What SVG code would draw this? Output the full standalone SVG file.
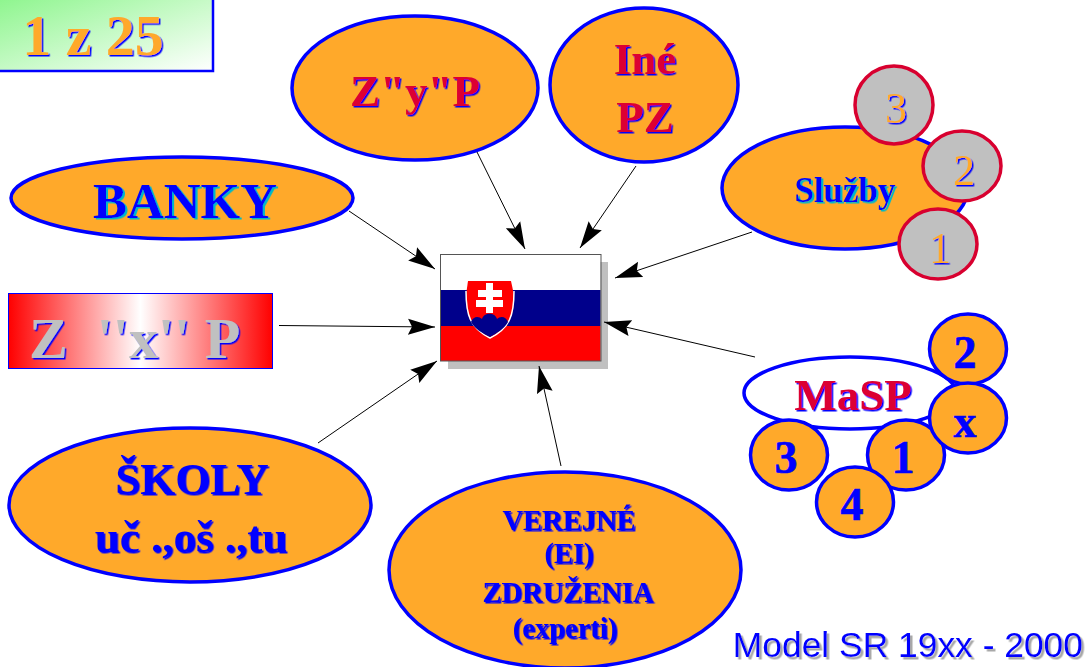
<svg xmlns="http://www.w3.org/2000/svg" width="1087" height="667" viewBox="0 0 1087 667">
<style>
text{font-family:"Liberation Serif","Times New Roman",serif;font-weight:bold;text-anchor:middle;white-space:pre}
.o{fill:#ffa92a;stroke:#0000ff;stroke-width:3.5}
.g{fill:#c0c0c0;stroke:#d8002f;stroke-width:3.5}
.tb{fill:#0000ff}
.tr{fill:#dc0032}
.to{fill:#ffa92a}
.hv{stroke:#0000ff;stroke-width:.6}
.sc{filter:url(#sc)}
.sb{filter:url(#sb)}
.sd{filter:url(#sd)}
.cn{stroke:#000;stroke-width:1;fill:none;marker-end:url(#ah)}
</style>
<defs>
<marker id="ah" markerUnits="userSpaceOnUse" markerWidth="28" markerHeight="18" refX="27" refY="8.5" orient="auto"><path d="M0 0.5L27 8.5L0 16.5L4 8.5z" fill="#000"/></marker>
<linearGradient id="gg" x1="0" y1="0" x2="1" y2="1"><stop offset="0" stop-color="#8cf58c"/><stop offset="1" stop-color="#ffffff"/></linearGradient>
<linearGradient id="rg" x1="0" y1="0" x2="1" y2="0"><stop offset="0" stop-color="#ff0000"/><stop offset=".5" stop-color="#ffffff"/><stop offset="1" stop-color="#ff0000"/></linearGradient>
<filter id="sc" x="-5%" y="-5%" width="110%" height="115%"><feDropShadow dx="2" dy="1.5" stdDeviation="0" flood-color="#00b8c8"/></filter>
<filter id="sb" x="-5%" y="-5%" width="110%" height="115%"><feDropShadow dx="1.5" dy="1.5" stdDeviation="0" flood-color="#0000ff"/></filter>
<filter id="sd" x="-5%" y="-5%" width="110%" height="115%"><feDropShadow dx="2.5" dy="2.5" stdDeviation="0.5" flood-color="#a8a8a8"/></filter>
</defs>
<g id="counter">
<rect x="-3" y="-3" width="216" height="74" fill="url(#gg)" stroke="#0000ff" stroke-width="2.500"/>
<text class="to sb" x="93" y="55" font-size="58">1 z 25</text>
</g>
<g id="banky">
<ellipse class="o" cx="182" cy="198" rx="171" ry="41"/>
<text class="tb sc" x="185" y="218" font-size="51">BANKY</text>
</g>
<g id="zyp">
<ellipse class="o" cx="415" cy="88" rx="123" ry="72"/>
<text class="tr sb" x="415" y="106" font-size="45">Z"y"P</text>
</g>
<g id="ine">
<ellipse class="o" cx="644" cy="85" rx="94" ry="77"/>
<text class="tr sb" x="645" y="74" font-size="45">Iné</text>
<text class="tr sb" x="645" y="132" font-size="45">PZ</text>
</g>
<g id="sluzby">
<ellipse class="o" cx="845" cy="188" rx="123" ry="61"/>
<text class="tb sc" x="845" y="202" font-size="35">Služby</text>
</g>
<g id="s3"><circle class="g" cx="894" cy="105" r="39"/><text class="to sb" x="896" y="123" font-size="44" style="font-weight:normal">3</text></g>
<g id="s2"><ellipse class="g" cx="962" cy="166" rx="39" ry="35"/><text class="to sb" x="964" y="185" font-size="44" style="font-weight:normal">2</text></g>
<g id="s1"><ellipse class="g" cx="938" cy="244" rx="39" ry="35"/><text class="to sb" x="940" y="263" font-size="44" style="font-weight:normal">1</text></g>
<g id="flag">
<rect x="448" y="262" width="160" height="107" fill="#c0c0c0"/>
<rect x="440.500" y="254.500" width="160" height="35.500" fill="#ffffff"/>
<rect x="440.500" y="290" width="160" height="36" fill="#00008b"/>
<rect x="440.500" y="326" width="160" height="35" fill="#ff0000"/>
<rect x="440.500" y="254.500" width="160.500" height="106.500" fill="none" stroke="#555" stroke-width="1"/>
<path d="M466 295C466 315 470 328 490 338C510 328 514 315 514 295L511 281H468z" fill="#ff0000"/>
<path d="M466 291C466 315 470 328 490 338C510 328 514 315 514 291" fill="none" stroke="#fff" stroke-width="1.500"/>
<path d="M486 283H493V290H502V297H493V300H503V307H493V313H486V307H476V300H486V297H478V290H486z" fill="#fff"/>
<path d="M471 322C473 316 479 316 482 319C484 312 495 312 497 319C500 316 506 316 508 322C504 329 497 333 490 337C482 333 475 329 471 322z" fill="#00008b"/>
</g>
<g id="zxp">
<rect x="8.500" y="293.500" width="264" height="75" fill="url(#rg)" stroke="#0000ff" stroke-width="1"/>
<text class="sb" fill="#c0c0c0" x="29" y="358" font-size="58" style="text-anchor:start">Z  ''x'' P</text>
</g>
<g id="skoly">
<ellipse class="o" cx="190" cy="505" rx="181" ry="77"/>
<text class="tb sb" x="192" y="494" font-size="45">ŠKOLY</text>
<text class="tb sb" x="191" y="552" font-size="45">uč .,oš .,tu</text>
</g>
<g id="verejne">
<ellipse class="o" cx="565" cy="570" rx="176" ry="98"/>
<text class="tb sb" x="569" y="530" font-size="28.500">VEREJNÉ</text>
<text class="tb sb" x="569" y="563" font-size="28.500">(EI)</text>
<text class="tb sb" x="568" y="602" font-size="28.500">ZDRUŽENIA</text>
<text class="tb sb" x="565" y="638" font-size="28.500">(experti)</text>
</g>
<g id="masp">
<ellipse cx="850" cy="393" rx="106" ry="36" fill="#fff" stroke="#0000ff" stroke-width="3.500"/>
<text class="tr sb" x="853" y="410" font-size="45">MaSP</text>
</g>
<g id="m2"><ellipse class="o" cx="968" cy="349" rx="38.500" ry="35"/><text class="tb hv" x="965" y="368" font-size="46">2</text></g>
<g id="m1"><ellipse class="o" cx="906" cy="455" rx="38.500" ry="35"/><text class="tb hv" x="903" y="473" font-size="46">1</text></g>
<g id="mx"><ellipse class="o" cx="968" cy="418" rx="38.500" ry="35"/><text class="tb hv" x="965" y="437" font-size="46">x</text></g>
<g id="m3"><ellipse class="o" cx="789" cy="455" rx="38.500" ry="35"/><text class="tb hv" x="786" y="473" font-size="46">3</text></g>
<g id="m4"><ellipse class="o" cx="855" cy="502" rx="38.500" ry="35"/><text class="tb hv" x="852" y="520" font-size="46">4</text></g>
<g id="model"><text class="sd" x="1083" y="657" font-size="35.400" fill="#0000ff" style="font-family:'Liberation Sans',Arial,sans-serif;font-weight:normal;text-anchor:end">Model SR 19xx - 2000</text></g>
<g id="connectors">
<line class="cn" x1="349" y1="211" x2="435" y2="269"/>
<line class="cn" x1="477" y1="152" x2="525" y2="249"/>
<line class="cn" x1="636" y1="166" x2="580" y2="248"/>
<line class="cn" x1="752" y1="232" x2="615" y2="278"/>
<line class="cn" x1="755" y1="357" x2="604" y2="322"/>
<line class="cn" x1="561" y1="466" x2="539" y2="366"/>
<line class="cn" x1="318" y1="443" x2="437" y2="361"/>
<line class="cn" x1="279" y1="325.500" x2="435" y2="327"/>
</g>
</svg>
